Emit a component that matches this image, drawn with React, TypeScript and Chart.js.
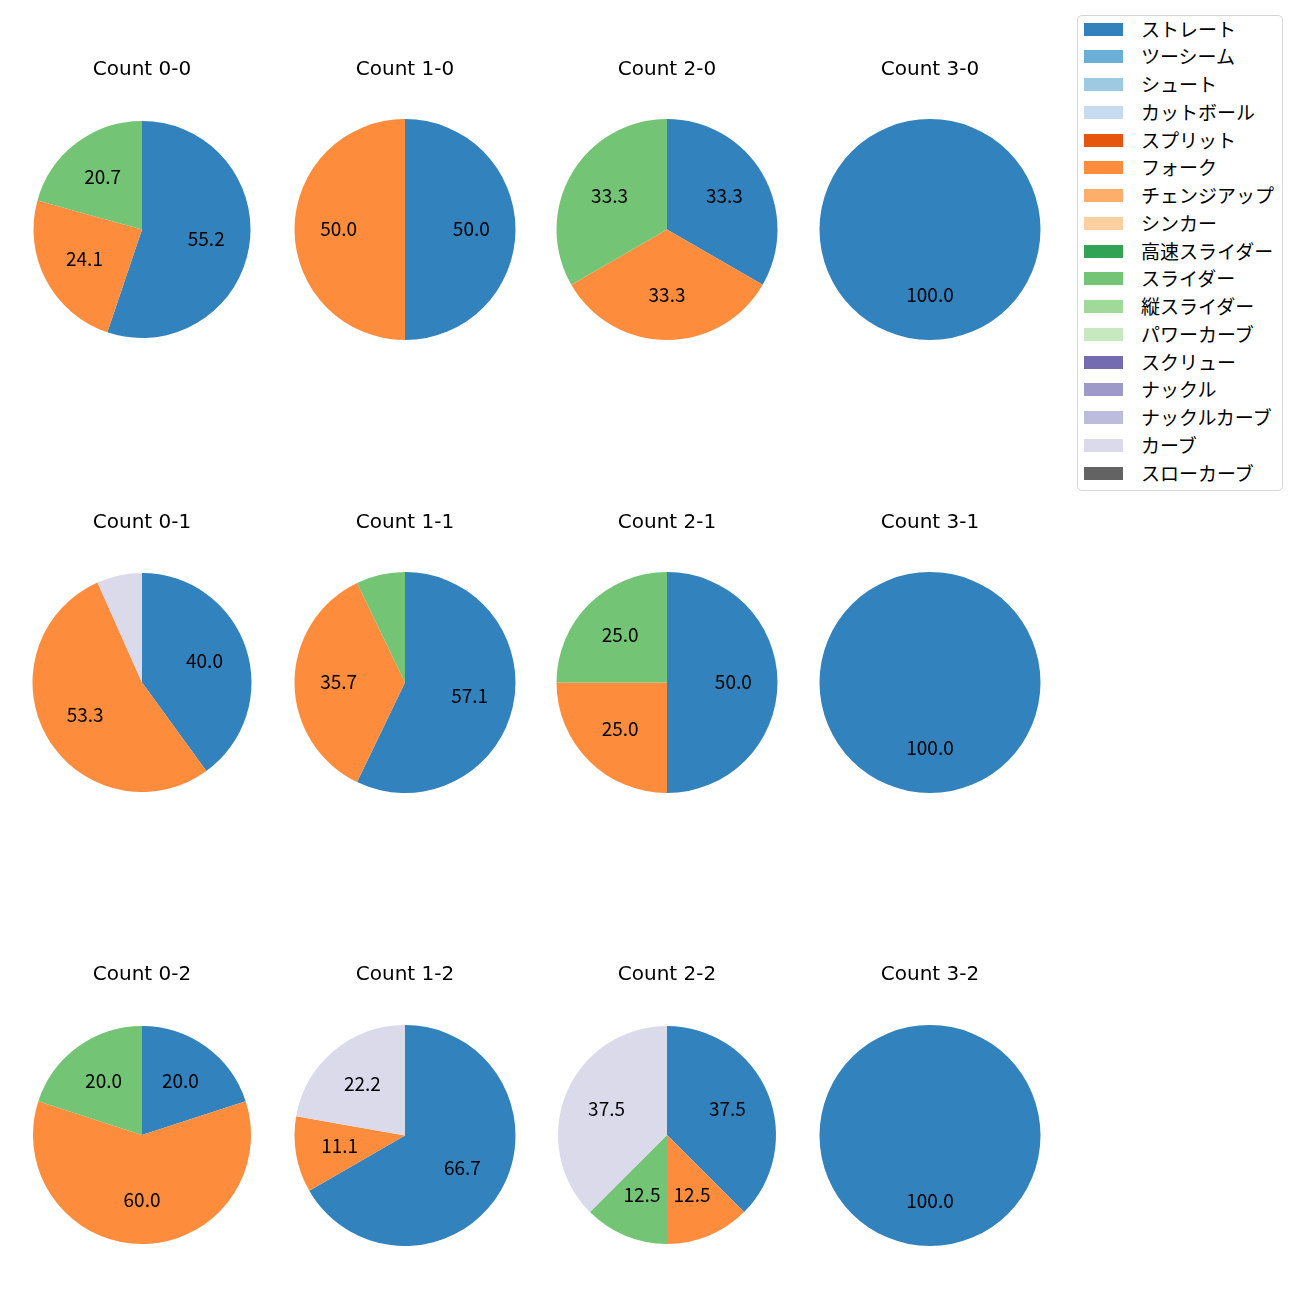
import React, { useEffect, useRef } from "react";
import { Chart, registerables } from "chart.js";
Chart.register(...registerables);

const pitchTypes = [
  "ストレート", "ツーシーム", "シュート", "カットボール", "スプリット", "フォーク",
  "チェンジアップ", "シンカー", "高速スライダー", "スライダー", "縦スライダー",
  "パワーカーブ", "スクリュー", "ナックル", "ナックルカーブ", "カーブ", "スローカーブ",
];
const pitchColors = [
  "#3182bd", "#6baed6", "#9ecae1", "#c6dbef", "#e6550d", "#fd8d3c",
  "#fdae6b", "#fdd0a2", "#31a354", "#74c476", "#a1d99b", "#c7e9c0",
  "#756bb1", "#9e9ac8", "#bcbddc", "#dadaeb", "#636363",
];

const countTitles = [
  "Count 0-0", "Count 1-0", "Count 2-0", "Count 3-0",
  "Count 0-1", "Count 1-1", "Count 2-1", "Count 3-1",
  "Count 0-2", "Count 1-2", "Count 2-2", "Count 3-2",
];

// order follows pitchTypes
const count00 = [16, 0, 0, 0, 0, 7, 0, 0, 0, 6, 0, 0, 0, 0, 0, 0, 0];
const count10 = [1, 0, 0, 0, 0, 1, 0, 0, 0, 0, 0, 0, 0, 0, 0, 0, 0];
const count20 = [1, 0, 0, 0, 0, 1, 0, 0, 0, 1, 0, 0, 0, 0, 0, 0, 0];
const count30 = [1, 0, 0, 0, 0, 0, 0, 0, 0, 0, 0, 0, 0, 0, 0, 0, 0];
const count01 = [6, 0, 0, 0, 0, 8, 0, 0, 0, 0, 0, 0, 0, 0, 0, 1, 0];
const count11 = [8, 0, 0, 0, 0, 5, 0, 0, 0, 1, 0, 0, 0, 0, 0, 0, 0];
const count21 = [2, 0, 0, 0, 0, 1, 0, 0, 0, 1, 0, 0, 0, 0, 0, 0, 0];
const count31 = [1, 0, 0, 0, 0, 0, 0, 0, 0, 0, 0, 0, 0, 0, 0, 0, 0];
const count02 = [1, 0, 0, 0, 0, 3, 0, 0, 0, 1, 0, 0, 0, 0, 0, 0, 0];
const count12 = [6, 0, 0, 0, 0, 1, 0, 0, 0, 0, 0, 0, 0, 0, 0, 2, 0];
const count22 = [3, 0, 0, 0, 0, 1, 0, 0, 0, 1, 0, 0, 0, 0, 0, 3, 0];
const count32 = [1, 0, 0, 0, 0, 0, 0, 0, 0, 0, 0, 0, 0, 0, 0, 0, 0];

const countValues = [
  count00, count10, count20, count30,
  count01, count11, count21, count31,
  count02, count12, count22, count32,
];

// layout
const colCenters = [141.5, 404.5, 667, 930];
const rowCenters = [229, 682, 1135];
const titleYs = [70, 523, 975];
const diameters = [
  217, 221, 221, 221,
  219, 221, 221, 221,
  218, 221, 218, 221,
];

const FONT = '"Noto Sans CJK JP", "Noto Sans", sans-serif';
const TITLE_FONT = '"DejaVu Sans", sans-serif';
const TITLE_SIZE = 20;
const LABEL_SIZE = 19;
const LEGEND_SIZE = 19;
const CANVAS_W = 260;

const pctLabelPlugin = {
  id: "pctLabels",
  afterDatasetsDraw(chart: any) {
    const ctx = chart.ctx;
    const meta = chart.getDatasetMeta(0);
    const data = chart.data.datasets[0].data as number[];
    const total = data.reduce((a: number, b: number) => a + b, 0);
    ctx.save();
    ctx.font = `${LABEL_SIZE}px ${FONT}`;
    ctx.fillStyle = "#000";
    ctx.textAlign = "center";
    ctx.textBaseline = "middle";
    meta.data.forEach((arc: any, i: number) => {
      const v = data[i];
      if (!v) return;
      const pct = (v / total) * 100;
      if (pct < 10) return;
      const p = arc.getProps(["x", "y", "startAngle", "endAngle", "outerRadius"], true);
      const mid = (p.startAngle + p.endAngle) / 2;
      const r = p.outerRadius * 0.6;
      ctx.fillText(pct.toFixed(1), p.x + Math.cos(mid) * r, p.y + Math.sin(mid) * r - 1);
    });
    ctx.restore();
  },
};

function PieCell({ idx }: { idx: number }) {
  const ref = useRef<HTMLCanvasElement | null>(null);
  const col = idx % 4;
  const row = Math.floor(idx / 4);
  const cx = colCenters[col];
  const cy = rowCenters[row];
  const d = diameters[idx];
  const titleY = titleYs[row];
  const lineH = Math.round(TITLE_SIZE * 1.2);
  const top = Math.round(titleY - lineH / 2);
  const pieTop = cy - d / 2;
  const padBottom = Math.max(0, Math.round(pieTop - top - lineH));
  const height = lineH + padBottom + d;

  useEffect(() => {
    if (!ref.current) return;
    const chart = new Chart(ref.current, {
      type: "pie",
      data: {
        labels: pitchTypes,
        datasets: [
          {
            data: countValues[idx],
            backgroundColor: pitchColors,
            borderWidth: 0,
          },
        ],
      },
      options: {
        responsive: false,
        animation: false,
        layout: { padding: 0 },
        plugins: {
          legend: { display: false },
          tooltip: { enabled: false },
          title: {
            display: true,
            text: countTitles[idx],
            color: "#000",
            font: { family: TITLE_FONT, size: TITLE_SIZE, weight: "normal", lineHeight: 1.2 },
            padding: { top: 0, bottom: padBottom },
          },
        },
      } as any,
      plugins: [pctLabelPlugin],
    });
    return () => chart.destroy();
  }, [idx]);

  return (
    <canvas
      ref={ref}
      width={CANVAS_W}
      height={height}
      style={{
        position: "absolute",
        left: Math.round(cx - CANVAS_W / 2),
        top: top,
        width: CANVAS_W,
        height: height,
      }}
    />
  );
}

function Legend() {
  return (
    <div
      style={{
        position: "absolute",
        left: 1077,
        top: 15,
        width: 204,
        height: 474,
        border: "1px solid #d6d6d6",
        borderRadius: 5,
        background: "rgba(255,255,255,0.8)",
        fontFamily: FONT,
        fontSize: LEGEND_SIZE,
        color: "#000",
      }}
    >
      {pitchTypes.map((name, i) => {
        const yc = 29 + i * 27.75 - 16;
        return (
          <div key={name}>
            <div
              style={{
                position: "absolute",
                left: 1084 - 1078,
                top: yc - 6.5,
                width: 39,
                height: 13,
                background: pitchColors[i],
              }}
            />
            <div
              style={{
                position: "absolute",
                left: 1141 - 1078,
                top: yc - 12.5,
                height: 24,
                lineHeight: "24px",
                whiteSpace: "nowrap",
              }}
            >
              {name}
            </div>
          </div>
        );
      })}
    </div>
  );
}

export default function App() {
  return (
    <div
      style={{
        position: "absolute",
        left: 0,
        top: 0,
        width: 1300,
        height: 1300,
        background: "#fff",
      }}
    >
      {countTitles.map((_, i) => (
        <PieCell key={i} idx={i} />
      ))}
      <Legend />
    </div>
  );
}
